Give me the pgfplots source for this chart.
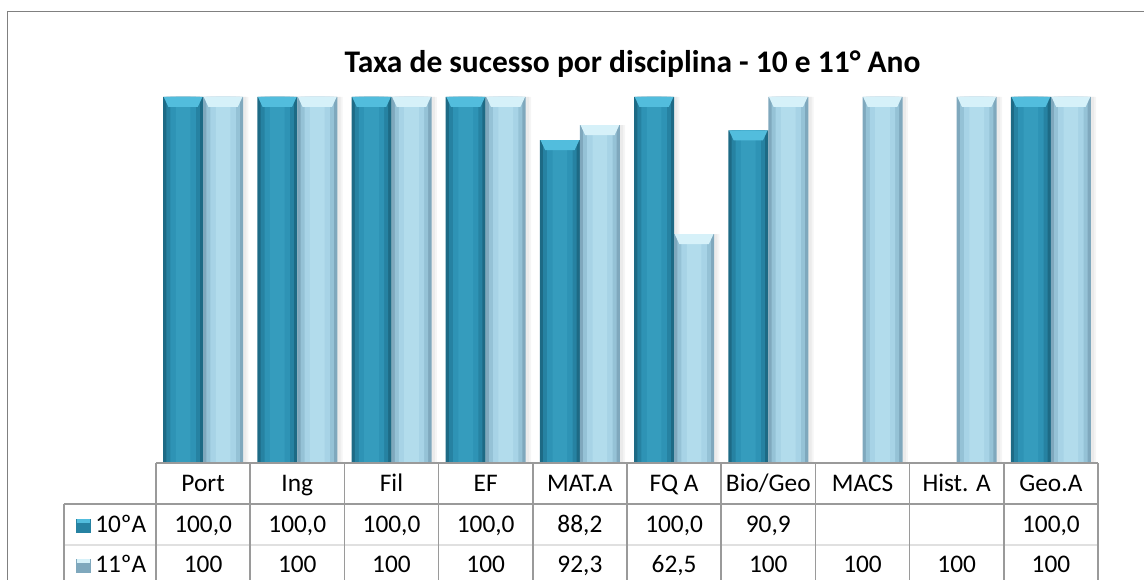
\documentclass[border=0pt]{standalone}
\usepackage{pgfplots}
\pgfplotsset{compat=1.18}
\usepackage{pgfplotstable}
\usepackage{fontspec}
\setmainfont{Carlito}
\definecolor{dk1}{HTML}{1D6A85}
\definecolor{dk2}{HTML}{2682A2}
\definecolor{dk3}{HTML}{2E93B5}
\definecolor{dk4}{HTML}{359CBD}
\definecolor{dkcap}{HTML}{52BDDD}
\definecolor{lt1}{HTML}{7FA8BD}
\definecolor{lt2}{HTML}{95C2D6}
\definecolor{lt3}{HTML}{A7D3E6}
\definecolor{lt4}{HTML}{B2DCEC}
\definecolor{ltcap}{HTML}{D6F1F9}
\definecolor{framegray}{HTML}{808080}
\definecolor{tabgray}{HTML}{9A9A9A}

\pgfdeclareplotmark{capdk}{%
  \pgfpathmoveto{\pgfpoint{-29.5pt}{0pt}}%
  \pgfpathlineto{\pgfpoint{-0.5pt}{0pt}}%
  \pgfpathlineto{\pgfpoint{-4pt}{-7.5pt}}%
  \pgfpathlineto{\pgfpoint{-26pt}{-7.5pt}}%
  \pgfpathclose\pgfusepathqfill}
\pgfdeclareplotmark{caplt}{%
  \pgfpathmoveto{\pgfpoint{0.5pt}{0pt}}%
  \pgfpathlineto{\pgfpoint{29.5pt}{0pt}}%
  \pgfpathlineto{\pgfpoint{26pt}{-7.5pt}}%
  \pgfpathlineto{\pgfpoint{4pt}{-7.5pt}}%
  \pgfpathclose\pgfusepathqfill}

\pgfplotstableread{
x a b
0 100 100
1 100 100
2 100 100
3 100 100
4 88.2 92.3
5 100 62.5
6 90.9 100
7 nan 100
8 nan 100
9 100 100
}\data

\begin{document}
\begin{tikzpicture}
\useasboundingbox (-117pt,347.25pt) rectangle (741pt,-87.75pt);
\begin{axis}[at={(0,0)}, anchor=south west, scale only axis,
  width=706.5pt, height=274.5pt,
  xmin=-0.5, xmax=9.5, ymin=0, ymax=100,
  hide axis, clip=false]
% soft shadows
\addplot[ybar, bar width=30pt, bar shift=-11pt, fill=black!4, draw=none] table[x=x,y=a]{\data};
\addplot[ybar, bar width=30pt, bar shift=19pt, fill=black!4, draw=none] table[x=x,y=b]{\data};
\addplot[ybar, bar width=30pt, bar shift=-12.5pt, fill=black!8, draw=none] table[x=x,y=a]{\data};
\addplot[ybar, bar width=30pt, bar shift=17.5pt, fill=black!8, draw=none] table[x=x,y=b]{\data};
\addplot[ybar, bar width=30pt, bar shift=-15pt, fill=dk1, draw=none] table[x=x,y=a]{\data};
\addplot[ybar, bar width=25pt, bar shift=-15pt, fill=dk2, draw=none] table[x=x,y=a]{\data};
\addplot[ybar, bar width=19pt, bar shift=-15pt, fill=dk3, draw=none] table[x=x,y=a]{\data};
\addplot[ybar, bar width=11pt, bar shift=-15pt, fill=dk4, draw=none] table[x=x,y=a]{\data};
\addplot[ybar, bar width=30pt, bar shift=15pt, fill=lt1, draw=none] table[x=x,y=b]{\data};
\addplot[ybar, bar width=25pt, bar shift=15pt, fill=lt2, draw=none] table[x=x,y=b]{\data};
\addplot[ybar, bar width=19pt, bar shift=15pt, fill=lt3, draw=none] table[x=x,y=b]{\data};
\addplot[ybar, bar width=11pt, bar shift=15pt, fill=lt4, draw=none] table[x=x,y=b]{\data};
\addplot[only marks, mark=capdk, mark options={fill=dkcap, draw=none}] table[x=x,y=a]{\data};
\addplot[only marks, mark=caplt, mark options={fill=ltcap, draw=none}] table[x=x,y=b]{\data};
\end{axis}
\begin{scope}[x=0.75pt,y=-0.75pt,shift={(-117pt,347.25pt)}]
\draw[framegray, line width=1pt] (7.5,11.5) rectangle (1200,700);
\node[font=\fontsize{23.6}{28}\selectfont\bfseries, anchor=base] at (632.5,73) {Taxa de sucesso por disciplina - 10 e 11° Ano};
\draw[tabgray, line width=1.1pt] (156,463) -- (1098,463);
\draw[tabgray, line width=1.1pt] (64,504) -- (1098,504);
\draw[black!12, line width=0.8pt] (64,545) -- (1098,545);
\foreach \i in {0,...,10} \draw[tabgray, line width=1.1pt] ({156+94.2*\i},463) -- ({156+94.2*\i},600);
\draw[tabgray, line width=1.1pt] (64,504) -- (64,600);
\foreach \t [count=\i from 0] in {Port,Ing,Fil,EF,MAT.A,FQ A,Bio/Geo,MACS,Hist. A,Geo.A}
  \node[font=\fontsize{19}{23}\selectfont, anchor=base] at ({203.1+94.2*\i},492) {\t};
\foreach \t [count=\i from 0] in {{100,0},{100,0},{100,0},{100,0},{88,2},{100,0},{90,9},{},{},{100,0}}
  \node[font=\fontsize{19}{23}\selectfont, anchor=base] at ({203.1+94.2*\i},533) {\t};
\foreach \t [count=\i from 0] in {100,100,100,100,{92,3},{62,5},100,100,100,100}
  \node[font=\fontsize{19}{23}\selectfont, anchor=base] at ({203.1+94.2*\i},573) {\t};
\node[font=\fontsize{19}{23}\selectfont, anchor=base west, inner sep=0pt] at (95,533) {10ºA};
\node[font=\fontsize{19}{23}\selectfont, anchor=base west, inner sep=0pt] at (95,573) {11ºA};
\fill[dk2] (76,519) rectangle (91,533);
\fill[dkcap] (77,519) rectangle (90,523);
\fill[lt1] (76,559) rectangle (91,573);
\fill[ltcap] (77,559) rectangle (90,563);
\end{scope}
\end{tikzpicture}
\end{document}
